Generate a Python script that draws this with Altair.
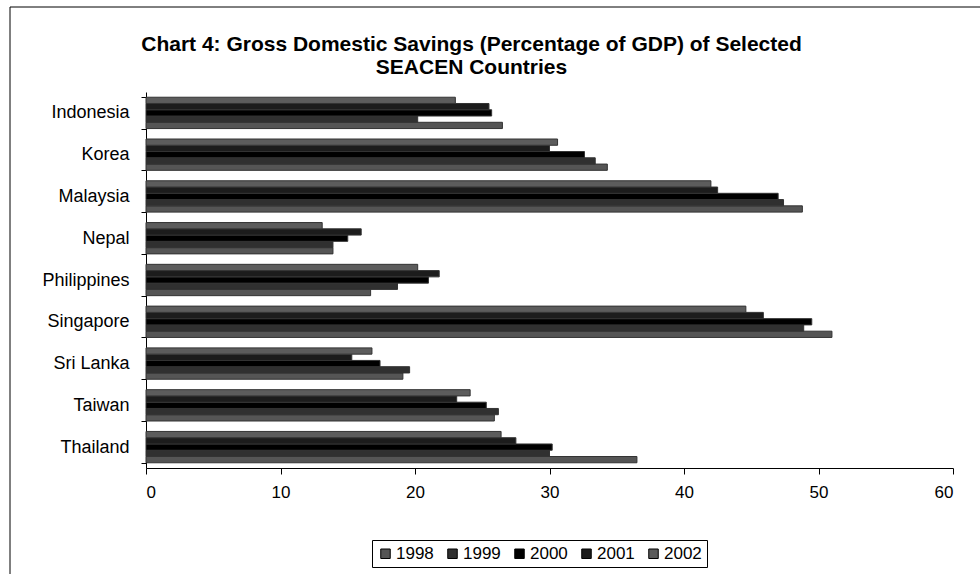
import altair as alt
import pandas as pd

countries = ["Indonesia", "Korea", "Malaysia", "Nepal", "Philippines",
             "Singapore", "Sri Lanka", "Taiwan", "Thailand"]
years = ["1998", "1999", "2000", "2001", "2002"]
v1998 = [26.5, 34.3, 48.8, 13.9, 16.7, 51.0, 19.1, 25.9, 36.5]
v1999 = [20.2, 33.4, 47.4, 13.9, 18.7, 48.9, 19.6, 26.2, 30.0]
v2000 = [25.7, 32.6, 47.0, 15.0, 21.0, 49.5, 17.4, 25.3, 30.2]
v2001 = [25.5, 30.0, 42.5, 16.0, 21.8, 45.9, 15.3, 23.1, 27.5]
v2002 = [23.0, 30.6, 42.0, 13.1, 20.2, 44.6, 16.8, 24.1, 26.4]
fills = ["#555555", "#303030", "#000000", "#1c1c1c", "#5c5c5c"]

series = [v1998, v1999, v2000, v2001, v2002]
rows = []
for y, vals in zip(years, series):
    for c, v in zip(countries, vals):
        rows.append({"country": c, "year": y, "value": v})
df = pd.DataFrame(rows)

FONT = "Liberation Sans"

bars = alt.Chart(df).mark_bar(stroke="#333333", strokeWidth=1).encode(
    y=alt.Y("country:N", sort=countries, title=None,
            scale=alt.Scale(paddingInner=0.25, paddingOuter=0.125),
            axis=alt.Axis(labelFont=FONT, labelFontSize=18, labelColor="black",
                          domainColor="black", tickColor="black", tickSize=5,
                          tickBand="extent", labelPadding=12)),
    yOffset=alt.YOffset("year:N", sort="descending"),
    x=alt.X("value:Q", title=None,
            scale=alt.Scale(domain=[0, 60], nice=False),
            axis=alt.Axis(values=[0, 10, 20, 30, 40, 50, 60], grid=False,
                          labelFont=FONT, labelFontSize=17, labelColor="black",
                          domainColor="black", tickColor="black", tickSize=6,
                          labelPadding=10)),
    fill=alt.Fill("year:N", scale=alt.Scale(domain=years, range=fills),
                  legend=alt.Legend(title=None, orient="none", direction="horizontal",
                                    columns=5, legendX=226, legendY=448,
                                    strokeColor="black", padding=5,
                                    symbolType="square", symbolSize=90,
                                    symbolStrokeColor="black", symbolStrokeWidth=1,
                                    labelFont=FONT, labelFontSize=17,
                                    labelColor="black", columnPadding=10,
                                    labelOffset=2)),
)

border_df = pd.DataFrame({"a": [0]})
top_border = alt.Chart(border_df).mark_rule(color="black", strokeWidth=1).encode(
    x=alt.value(-136), x2=alt.value(900), y=alt.value(-85))
left_border = alt.Chart(border_df).mark_rule(color="black", strokeWidth=1).encode(
    x=alt.value(-136), y=alt.value(-85), y2=alt.value(600))

chart = alt.layer(bars, top_border, left_border).properties(
    width=807, height=376,
    background="white",
    title=alt.TitleParams(
        ["Chart 4: Gross Domestic Savings (Percentage of GDP) of Selected",
         "SEACEN Countries"],
        font=FONT, fontSize=21, fontWeight="bold", color="black",
        anchor="middle", frame="group", dx=-78, dy=87, offset=16, lineHeight=23),
    autosize=alt.AutoSizeParams(type="none"),
    padding={"left": 146, "top": 92, "right": 27, "bottom": 106},
).configure_view(strokeWidth=0, stroke="transparent")

chart.save("out.html", embed_options={"renderer": "svg", "actions": False})
